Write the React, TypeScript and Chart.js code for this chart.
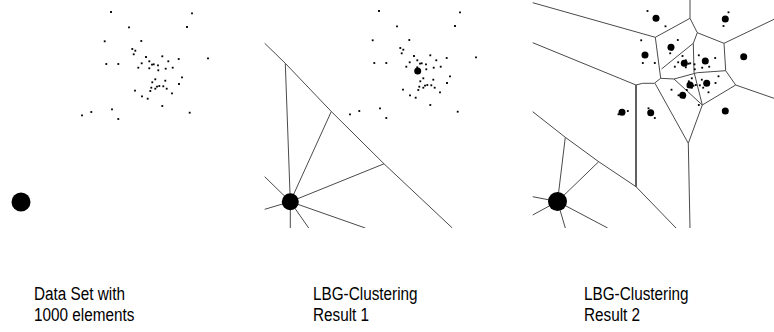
import React, { useEffect, useRef } from "react";
import { Chart, registerables } from "chart.js";

Chart.register(...registerables);

// Data set points (panel-1 coordinates, pixel-like units, y downward)
const dataX = [111, 192, 129, 187, 104.7, 141.3, 132.3, 135.3, 133.7, 208, 146, 162.3, 178.7, 106.3, 118.3, 141.7, 149.3, 152, 153.7, 158, 168.3, 138.3, 149.3, 158.3, 165.7, 172.7, 182, 155.3, 152.3, 165.3, 179, 135, 151.3, 150.3, 155.3, 157, 159.3, 163.3, 166.7, 172, 142, 147.7, 162.3, 189.7, 112, 91.3, 82, 118.3];
const dataY = [12, 13.3, 27.3, 27, 41.3, 41, 49, 50.7, 54.3, 58.3, 57, 56.3, 59, 64, 64, 63.3, 61.3, 64.7, 64.3, 65.3, 61.3, 67.7, 68.3, 70.3, 68.7, 67.7, 77.3, 79.3, 82.3, 80.7, 84, 90.7, 87.7, 91, 88.7, 86.7, 86, 86.3, 88.7, 93.3, 96.3, 98.7, 106, 112.7, 109.3, 112, 115.3, 119];

// Dense cluster (the ~950 element blob) per panel
const blobX = [21, 290.3, 557.5];
const blobY = [202, 201.7, 201.5];

// Codebook vectors (centroids)
const cent2X = [417.7];
const cent2Y = [71];
const cent3X = [656, 725.3, 671, 645, 705.3, 684.3, 743.7, 690, 706.7, 682.7, 622, 650.7, 725.3];
const cent3Y = [18.3, 19, 47.3, 55, 61, 63.3, 56.7, 85, 83.3, 95.3, 112.3, 112.7, 111];

// Voronoi edges, polylines as [x0,y0,x1,y1,...]
const edges2: number[][] = [
  [264.7, 43.3, 285.3, 63.3, 331.3, 111.5, 384, 163.8, 452.3, 228],
  [285.3, 63.3, 290.3, 201.7],
  [331.3, 111.5, 290.3, 201.7],
  [384, 163.8, 290.3, 201.7],
  [264.7, 176.7, 290.3, 201.7],
  [264.7, 209.3, 290.3, 201.7],
  [365.3, 228, 290.3, 201.7],
  [308.7, 228, 290.3, 201.7],
  [290.3, 228, 290.3, 201.7],
];
const edges3: number[][] = [
  [532.7, 2.7, 655.3, 37.3],
  [532.7, 42.7, 636, 85],
  [655.3, 37.3, 690, 18.3, 690, 0],
  [690, 18.3, 697.3, 32.7, 724, 43.3, 774, 19.3],
  [724, 43.3, 725.7, 70.7, 735.7, 85, 774, 98.3],
  [655.3, 37.3, 660.7, 78.3],
  [636, 85, 642.7, 83.3, 654.3, 83.3, 660.7, 78.3, 674, 79, 697.3, 72.7, 725.7, 70.7],
  [697.3, 32.7, 693.3, 43.3, 694, 72],
  [693.3, 43.3, 661.5, 69],
  [694, 72, 702.3, 105],
  [674, 79, 702.3, 105],
  [702.3, 105, 735.7, 85],
  [702.3, 105, 688.3, 143.3, 690, 228],
  [655, 83.3, 688.3, 143.3],
  [532.7, 111.7, 565.3, 137.3, 598.7, 161.7, 636, 186.7, 676, 228],
  [636, 85, 636, 186.7],
  [565.3, 137.3, 557.5, 201.5],
  [598.7, 161.7, 557.5, 201.5],
  [532.7, 196.7, 557.5, 201.5],
  [532.7, 215, 557.5, 201.5],
  [565.3, 228, 557.5, 201.5],
  [607.7, 228, 557.5, 201.5],
];

const panelOffsetX = [0, 268, 536.5];
const panelOffsetY = [0, -1, -1];

const captions = [
  ["Data Set with", "1000 elements"],
  ["LBG-Clustering", "Result 1"],
  ["LBG-Clustering", "Result 2"],
];
const captionLeft = [34, 313, 584];

const W = 774;
const H = 228;

function pts(xs: number[], ys: number[], dx = 0, dy = 0) {
  return xs.map((x, i) => ({ x: x + dx, y: ys[i] + dy }));
}
function poly(a: number[]) {
  const out: { x: number; y: number }[] = [];
  for (let i = 0; i < a.length; i += 2) out.push({ x: a[i], y: a[i + 1] });
  return out;
}

export default function App() {
  const ref = useRef<HTMLCanvasElement>(null);
  useEffect(() => {
    if (!ref.current) return;
    const datasets: any[] = [];
    [...edges2, ...edges3].forEach((e) => {
      datasets.push({
        data: poly(e),
        showLine: true,
        borderColor: "#4a4a4a",
        borderWidth: 1,
        pointRadius: 0,
        order: 3,
      });
    });
    for (let p = 0; p < 3; p++) {
      datasets.push({
        data: pts(dataX, dataY, panelOffsetX[p], panelOffsetY[p]),
        backgroundColor: "#000",
        borderWidth: 0,
        pointRadius: 1.3,
        pointStyle: "rect",
        order: 1,
      });
    }
    datasets.push({
      data: pts(blobX, blobY),
      backgroundColor: "#000",
      borderWidth: 0,
      pointRadius: [9.5, 8.5, 9.5],
      order: 0,
    });
    datasets.push({
      data: pts(cent2X, cent2Y),
      backgroundColor: "#000",
      borderWidth: 0,
      pointRadius: 3.5,
      order: 0,
    });
    datasets.push({
      data: pts(cent3X, cent3Y),
      backgroundColor: "#000",
      borderWidth: 0,
      pointRadius: 3.5,
      order: 0,
    });
    const chart = new Chart(ref.current, {
      type: "scatter",
      data: { datasets },
      options: {
        animation: false,
        responsive: false,
        maintainAspectRatio: false,
        layout: { padding: 0, autoPadding: false },
        plugins: { legend: { display: false }, tooltip: { enabled: false } },
        scales: {
          x: { type: "linear", min: 0, max: W, display: false },
          y: { type: "linear", min: 0, max: H, reverse: true, display: false },
        },
      },
    });
    return () => chart.destroy();
  }, []);
  return (
    <div style={{ position: "absolute", left: 0, top: 0, width: W, height: 332, background: "#fff" }}>
      <canvas ref={ref} width={W} height={H} style={{ position: "absolute", left: 0, top: 0, width: W, height: H }} />
      {captions.map((c, i) => (
        <div
          key={i}
          style={{
            position: "absolute",
            left: captionLeft[i],
            top: 284,
            fontFamily: "'Liberation Sans', Arial, sans-serif",
            fontSize: 18,
            lineHeight: "21px",
            color: "#000",
            whiteSpace: "nowrap",
            transform: "scaleX(0.85)",
            transformOrigin: "0 0",
          }}
        >
          {c[0]}
          <br />
          {c[1]}
        </div>
      ))}
    </div>
  );
}
